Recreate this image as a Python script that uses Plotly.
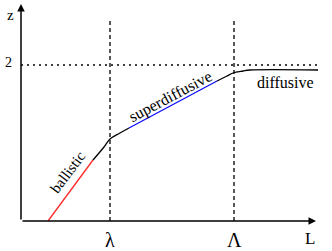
import plotly.graph_objects as go

# schematic data (arbitrary units, origin at axes corner)
ballistic_x = [27, 72]
ballistic_y = [0, 61]
cross1_x = [72, 83, 89, 99, 108]
cross1_y = [61, 74, 82, 88, 93]
super_x = [108, 196]
super_y = [93, 140]
cross2_x = [196, 206, 212, 222, 229, 297]
cross2_y = [140, 145, 148, 150, 151, 151]
lambda_x = 89
Lambda_x = 213
z_level = 156
x_arrow_end = 295
y_arrow_end = 217
dash_top = 201
dot_end = 299

FONT = "Liberation Serif, Times New Roman, Times, serif"

fig = go.Figure()
fig.add_trace(go.Scatter(x=ballistic_x, y=ballistic_y, mode="lines",
                         line=dict(color="#ff2a2a", width=1.3)))
fig.add_trace(go.Scatter(x=cross1_x, y=cross1_y, mode="lines",
                         line=dict(color="black", width=1.3, shape="spline")))
fig.add_trace(go.Scatter(x=super_x, y=super_y, mode="lines",
                         line=dict(color="#0a0aff", width=1.3)))
fig.add_trace(go.Scatter(x=cross2_x, y=cross2_y, mode="lines",
                         line=dict(color="black", width=1.3, shape="spline")))
# dashed verticals
for xv in [lambda_x, Lambda_x]:
    fig.add_trace(go.Scatter(x=[xv, xv], y=[0, dash_top], mode="lines",
                             line=dict(color="black", width=1.3, dash="4px,3px")))
# dotted horizontal
fig.add_trace(go.Scatter(x=[0, dot_end], y=[z_level, z_level], mode="lines",
                         line=dict(color="black", width=1.5, dash="2px,4px")))

anns = []
# axes with arrows
anns.append(dict(x=0, y=y_arrow_end, ax=0, ay=0, xref="x", yref="y", axref="x", ayref="y",
                 showarrow=True, arrowhead=2, arrowsize=1, arrowwidth=1.5, arrowcolor="black", text=""))
anns.append(dict(x=x_arrow_end, y=0, ax=0, ay=0, xref="x", yref="y", axref="x", ayref="y",
                 showarrow=True, arrowhead=2, arrowsize=1, arrowwidth=1.5, arrowcolor="black", text=""))

def label(t, x, y, size, angle=0):
    anns.append(dict(x=x, y=y, xref="x", yref="y", text=t, showarrow=False,
                     textangle=angle, xanchor="center", yanchor="middle",
                     font=dict(family=FONT, size=size, color="black")))

label("z", -11, 206, 15)
label("2", -13, 159, 14)
label("λ", lambda_x, -19, 20)
label("Λ", Lambda_x, -19, 20)
label("L", 289, -17, 17)
label("ballistic", 47, 49, 15, -53)
label("superdiffusive", 149, 124, 16, -28)
label("diffusive", 264, 139, 16)

fig.update_layout(
    width=332, height=251, margin=dict(l=0, r=0, t=0, b=0),
    paper_bgcolor="white", plot_bgcolor="white", showlegend=False,
    xaxis=dict(range=[-21, 311], visible=False, fixedrange=True),
    yaxis=dict(range=[-30, 221], visible=False, fixedrange=True),
    annotations=anns,
)
fig.write_html("out.html", config={"displayModeBar": False},
               post_script="document.body.style.margin='0';document.body.style.overflow='hidden';")
